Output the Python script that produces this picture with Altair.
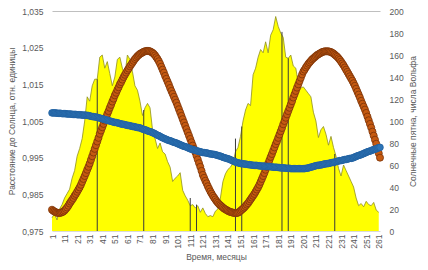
import altair as alt
import pandas as pd

# Sunspot numbers, read every second month (months 1, 3, ..., 261)
spot_months = list(range(1, 262, 2))
sunspots = [12, 16, 10, 20, 24, 30, 34, 38, 48, 55, 68, 75, 84, 100, 122, 118, 132, 138, 138, 158,
            160, 148, 154, 143, 132, 140, 156, 158, 148, 142, 160, 156, 145, 132, 128, 118, 105, 112, 116, 112,
            92, 84, 75, 80, 72, 70, 63, 58, 45, 48, 50, 53, 37, 32, 28, 23, 24, 21, 23, 17,
            21, 16, 13, 14, 13, 18, 20, 30, 45, 52, 56, 58, 62, 72, 76, 86, 100, 110, 116, 114,
            142, 148, 158, 165, 162, 172, 162, 178, 183, 195, 186, 180, 176, 158, 157, 160, 150, 148, 134, 130,
            131, 128, 125, 122, 108, 100, 85, 92, 95, 88, 78, 86, 76, 68, 57, 50, 60, 55, 50, 45,
            40, 30, 23, 25, 22, 27, 24, 23, 26, 19, 17]

# Distance series, monthly (months 1..262)
months = list(range(1, 263))
distance_a = [
    0.9808, 0.9805, 0.9803, 0.9801, 0.9800, 0.9799, 0.9799, 0.9800, 0.9801, 0.9803,
    0.9806, 0.9810, 0.9814, 0.9819, 0.9825, 0.9830, 0.9835, 0.9840, 0.9846, 0.9851,
    0.9857, 0.9863, 0.9869, 0.9876, 0.9884, 0.9892, 0.9900, 0.9908, 0.9917, 0.9925,
    0.9934, 0.9944, 0.9954, 0.9964, 0.9974, 0.9984, 0.9994, 1.0004, 1.0015, 1.0024,
    1.0033, 1.0042, 1.0051, 1.0060, 1.0069, 1.0077, 1.0086, 1.0094, 1.0103, 1.0111,
    1.0120, 1.0127, 1.0135, 1.0142, 1.0150, 1.0156, 1.0163, 1.0170, 1.0176, 1.0182,
    1.0188, 1.0193, 1.0199, 1.0204, 1.0209, 1.0214, 1.0219, 1.0223, 1.0227, 1.0230,
    1.0233, 1.0235, 1.0237, 1.0239, 1.0240, 1.0241, 1.0241, 1.0241, 1.0240, 1.0238,
    1.0236, 1.0233, 1.0229, 1.0224, 1.0219, 1.0213, 1.0206, 1.0198, 1.0190, 1.0182,
    1.0173, 1.0165, 1.0157, 1.0149, 1.0140, 1.0132, 1.0124, 1.0116, 1.0108, 1.0100,
    1.0091, 1.0082, 1.0073, 1.0064, 1.0055, 1.0046, 1.0037, 1.0028, 1.0019, 1.0010,
    1.0001, 0.9992, 0.9983, 0.9974, 0.9965, 0.9955, 0.9945, 0.9935, 0.9925, 0.9914,
    0.9903, 0.9895, 0.9887, 0.9880, 0.9872, 0.9865, 0.9858, 0.9852, 0.9846, 0.9841,
    0.9836, 0.9831, 0.9827, 0.9823, 0.9820, 0.9817, 0.9814, 0.9811, 0.9809, 0.9807,
    0.9805, 0.9803, 0.9802, 0.9801, 0.9800, 0.9799, 0.9799, 0.9799, 0.9800, 0.9802,
    0.9805, 0.9808, 0.9811, 0.9814, 0.9818, 0.9822, 0.9826, 0.9831, 0.9836, 0.9841,
    0.9846, 0.9851, 0.9857, 0.9863, 0.9869, 0.9876, 0.9884, 0.9892, 0.9900, 0.9908,
    0.9917, 0.9925, 0.9934, 0.9943, 0.9952, 0.9960, 0.9969, 0.9978, 0.9987, 0.9995,
    1.0004, 1.0013, 1.0022, 1.0031, 1.0041, 1.0050, 1.0059, 1.0068, 1.0077, 1.0086,
    1.0095, 1.0104, 1.0114, 1.0123, 1.0132, 1.0141, 1.0150, 1.0159, 1.0168, 1.0177,
    1.0185, 1.0190, 1.0196, 1.0201, 1.0206, 1.0210, 1.0214, 1.0218, 1.0221, 1.0224,
    1.0227, 1.0230, 1.0232, 1.0234, 1.0236, 1.0238, 1.0239, 1.0240, 1.0240, 1.0240,
    1.0240, 1.0239, 1.0238, 1.0236, 1.0234, 1.0231, 1.0228, 1.0225, 1.0221, 1.0217,
    1.0212, 1.0207, 1.0202, 1.0196, 1.0190, 1.0184, 1.0178, 1.0172, 1.0166, 1.0160,
    1.0153, 1.0146, 1.0138, 1.0130, 1.0122, 1.0114, 1.0105, 1.0097, 1.0089, 1.0081,
    1.0072, 1.0062, 1.0052, 1.0042, 1.0032, 1.0021, 1.0010, 0.9999, 0.9988, 0.9975,
    0.9962, 0.9950]

distance_b = [
    1.0072, 1.0072, 1.0072, 1.0072, 1.0071, 1.0071, 1.0071, 1.0071, 1.0070, 1.0070,
    1.0070, 1.0070, 1.0069, 1.0069, 1.0069, 1.0069, 1.0068, 1.0068, 1.0068, 1.0068,
    1.0067, 1.0067, 1.0067, 1.0067, 1.0066, 1.0066, 1.0066, 1.0066, 1.0065, 1.0065,
    1.0064, 1.0063, 1.0062, 1.0062, 1.0061, 1.0061, 1.0060, 1.0059, 1.0058, 1.0057,
    1.0056, 1.0055, 1.0054, 1.0053, 1.0052, 1.0051, 1.0050, 1.0049, 1.0048, 1.0047,
    1.0046, 1.0046, 1.0045, 1.0044, 1.0043, 1.0042, 1.0041, 1.0041, 1.0040, 1.0039,
    1.0038, 1.0038, 1.0037, 1.0036, 1.0035, 1.0035, 1.0034, 1.0033, 1.0032, 1.0032,
    1.0031, 1.0030, 1.0028, 1.0027, 1.0026, 1.0025, 1.0023, 1.0022, 1.0021, 1.0020,
    1.0018, 1.0017, 1.0015, 1.0013, 1.0011, 1.0010, 1.0008, 1.0006, 1.0004, 1.0003,
    1.0001, 1.0000, 0.9998, 0.9997, 0.9996, 0.9995, 0.9993, 0.9992, 0.9991, 0.9990,
    0.9988, 0.9987, 0.9985, 0.9984, 0.9982, 0.9981, 0.9980, 0.9979, 0.9977, 0.9976,
    0.9974, 0.9973, 0.9972, 0.9971, 0.9970, 0.9969, 0.9968, 0.9967, 0.9966, 0.9965,
    0.9964, 0.9964, 0.9963, 0.9963, 0.9962, 0.9961, 0.9960, 0.9960, 0.9959, 0.9959,
    0.9958, 0.9957, 0.9956, 0.9955, 0.9954, 0.9953, 0.9951, 0.9950, 0.9949, 0.9948,
    0.9947, 0.9946, 0.9944, 0.9943, 0.9941, 0.9940, 0.9938, 0.9937, 0.9936, 0.9935,
    0.9934, 0.9934, 0.9933, 0.9933, 0.9932, 0.9932, 0.9931, 0.9931, 0.9930, 0.9930,
    0.9929, 0.9929, 0.9929, 0.9929, 0.9928, 0.9928, 0.9927, 0.9927, 0.9927, 0.9927,
    0.9926, 0.9926, 0.9926, 0.9926, 0.9925, 0.9925, 0.9924, 0.9924, 0.9924, 0.9924,
    0.9923, 0.9923, 0.9922, 0.9922, 0.9922, 0.9922, 0.9921, 0.9921, 0.9921, 0.9921,
    0.9920, 0.9920, 0.9920, 0.9920, 0.9920, 0.9920, 0.9920, 0.9920, 0.9920, 0.9920,
    0.9920, 0.9920, 0.9921, 0.9921, 0.9922, 0.9923, 0.9924, 0.9925, 0.9926, 0.9927,
    0.9928, 0.9929, 0.9929, 0.9930, 0.9930, 0.9931, 0.9932, 0.9933, 0.9933, 0.9934,
    0.9934, 0.9935, 0.9936, 0.9937, 0.9937, 0.9938, 0.9939, 0.9940, 0.9941, 0.9942,
    0.9942, 0.9943, 0.9944, 0.9945, 0.9945, 0.9946, 0.9947, 0.9948, 0.9948, 0.9949,
    0.9950, 0.9952, 0.9953, 0.9955, 0.9956, 0.9957, 0.9958, 0.9960, 0.9961, 0.9963,
    0.9964, 0.9966, 0.9967, 0.9968, 0.9969, 0.9971, 0.9972, 0.9973, 0.9974, 0.9976,
    0.9977, 0.9978]

line_months = [37, 74, 111, 116, 147, 152, 184, 189, 226]
line_tops = [138, 110, 30, 24, 84, 95, 181, 157, 70]

x_ticks = list(range(1, 262, 10))
left_ticks = [0.975, 0.985, 0.995, 1.005, 1.015, 1.025, 1.035]
right_ticks = list(range(0, 201, 20))

n = min(len(months), len(distance_a), len(distance_b))
df_spots = pd.DataFrame({"month": spot_months, "spots": sunspots})
df_dist = pd.DataFrame({"month": months[:n], "a": distance_a[:n], "b": distance_b[:n]})
df_lines = pd.DataFrame({"month": line_months, "spots": line_tops})

FONT = "Liberation Sans"
GREY = "#595959"

x_scale = alt.Scale(domain=[1, 262], nice=False, zero=False)
x_axis = alt.Axis(values=x_ticks, labelAngle=270, title="Время, месяцы",
                  grid=False, ticks=False, domainColor="#d9d9d9",
                  labelOverlap=False, labelBound=False, labelFlush=False,
                  labelPadding=3, titlePadding=4)
x_enc = alt.X("month:Q", scale=x_scale, axis=x_axis)

right_scale = alt.Scale(domain=[0, 200], nice=False, zero=True)
right_axis = alt.Axis(orient="right", values=right_ticks, title="Солнечные пятна, числа Вольфа",
                      titleAngle=270, titleBaseline="top", ticks=False, domain=False, grid=False,
                      labelOverlap=False, labelPadding=9, titlePadding=5)

area = alt.Chart(df_spots).mark_area(
    color="#FFFF00", opacity=1, interpolate="linear",
    line={"color": "#8F8F20", "strokeWidth": 0.8}
).encode(x=x_enc, y=alt.Y("spots:Q", scale=right_scale, axis=right_axis))

rules = alt.Chart(df_lines).mark_rule(color="#3a3a3a", strokeWidth=1).encode(
    x=x_enc,
    y=alt.Y("spots:Q", scale=right_scale, axis=right_axis),
    y2=alt.datum(0)
)

left_scale = alt.Scale(domain=[0.975, 1.035], nice=False, zero=False)
left_axis = alt.Axis(orient="left", values=left_ticks,
                     labelExpr="replace(format(datum.value, '.3f'), '.', ',')",
                     title="Расстояние до Солнца, отн. единицы",
                     ticks=False, domain=False, grid=True, gridColor="#bfbfbf",
                     gridOpacity={"condition": {"test": "datum.value > 1.03", "value": 1}, "value": 0},
                     labelOverlap=False, labelPadding=9, titlePadding=5)

orange = alt.Chart(df_dist).mark_point(
    shape="circle", filled=True, fill="#C55A11", stroke="#7A3208",
    strokeWidth=0.8, opacity=1, size=50
).encode(x=x_enc, y=alt.Y("a:Q", scale=left_scale, axis=left_axis))

blue = alt.Chart(df_dist).mark_point(
    shape="circle", filled=True, fill="#2E75B6", stroke="#215F9F",
    strokeWidth=0.8, opacity=1, size=44
).encode(x=x_enc, y=alt.Y("b:Q", scale=left_scale, axis=left_axis))

chart = alt.layer(
    alt.layer(area, rules),
    alt.layer(orange, blue)
).resolve_scale(y="independent").properties(
    width=328, height=220,
    autosize=alt.AutoSizeParams(type="none"),
    padding={"left": 44, "top": 3, "right": 40, "bottom": 36}
).configure_view(stroke=None).configure_axis(
    labelFont=FONT, titleFont=FONT, labelFontSize=8.5, titleFontSize=8.5,
    labelColor=GREY, titleColor=GREY, titleFontWeight="normal"
)

chart.save("out.html", embed_options={"renderer": "svg", "actions": False})
